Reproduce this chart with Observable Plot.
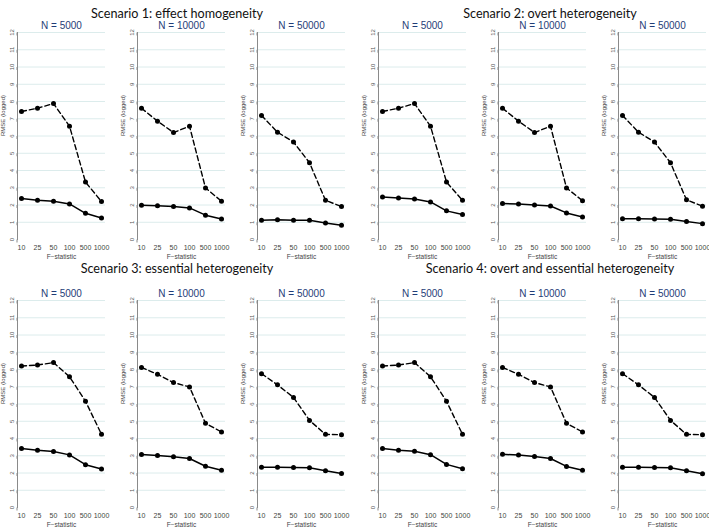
<!DOCTYPE html>
<html><head><meta charset="utf-8">
<script src="https://cdn.jsdelivr.net/npm/d3@7"></script>
<script src="https://cdn.jsdelivr.net/npm/@observablehq/plot@0.6"></script>
<style>
body{margin:0;background:#fff;width:709px;height:528px;overflow:hidden;position:relative;font-family:"Liberation Sans",Arial,sans-serif}
.title{position:absolute;font-family:Lato,"Open Sans",sans-serif;font-size:12.6px;color:#111;transform:translateX(-50%);white-space:nowrap;line-height:1}
.panel{position:absolute}
</style></head><body>
<script>
const fStats = ["10","25","50","100","500","1000"];
const sampleSizes = ["N = 5000","N = 10000","N = 50000"];
const scenarioTitles = [
  "Scenario 1: effect homogeneity",
  "Scenario 2: overt heterogeneity",
  "Scenario 3: essential heterogeneity",
  "Scenario 4: overt and essential heterogeneity"
];
const yTicks = [0,1,2,3,4,5,6,7,8,9,10,11,12];
const gridTicks = [1,2,3,4,5,6,7,8,9,10,11,12];

// dashed series (per N: 5000, 10000, 50000)
const scen1Dashed = [[7.42,7.61,7.88,6.57,3.33,2.20],[7.61,6.86,6.20,6.57,2.99,2.22],[7.19,6.22,5.65,4.45,2.27,1.91]];
const scen1Solid  = [[2.37,2.27,2.22,2.06,1.52,1.25],[1.99,1.96,1.92,1.83,1.41,1.19],[1.12,1.14,1.11,1.11,0.96,0.83]];
const scen2Dashed = [[7.42,7.61,7.88,6.57,3.33,2.27],[7.61,6.86,6.20,6.57,2.99,2.25],[7.19,6.22,5.65,4.45,2.30,1.93]];
const scen2Solid  = [[2.47,2.41,2.35,2.18,1.66,1.45],[2.08,2.06,2.00,1.94,1.54,1.31],[1.21,1.21,1.19,1.18,1.05,0.92]];
const scen3Dashed = [[8.20,8.26,8.40,7.58,6.16,4.24],[8.12,7.72,7.24,6.99,4.88,4.38],[7.76,7.11,6.38,5.05,4.24,4.22]];
const scen3Solid  = [[3.42,3.32,3.25,3.05,2.48,2.23],[3.07,3.02,2.94,2.84,2.39,2.16],[2.34,2.34,2.32,2.30,2.13,1.97]];
const scen4Dashed = [[8.20,8.26,8.40,7.58,6.16,4.24],[8.12,7.72,7.24,6.99,4.88,4.38],[7.76,7.11,6.38,5.05,4.24,4.22]];
const scen4Solid  = [[3.42,3.32,3.26,3.06,2.50,2.25],[3.08,3.04,2.95,2.84,2.38,2.16],[2.34,2.34,2.32,2.30,2.13,1.96]];

const dashedAll = [scen1Dashed, scen2Dashed, scen3Dashed, scen4Dashed];
const solidAll = [scen1Solid, scen2Solid, scen3Solid, scen4Solid];

const scenLeft = [0, 361, 0, 361];
const scenTop = [0, 0, 268, 268];
const titlePos = [[177,8],[550,8],[177,263],[550,263]];

scenarioTitles.forEach((t,i)=>{
  const d = document.createElement("div");
  d.className = "title";
  d.textContent = t;
  d.style.left = titlePos[i][0]+"px";
  d.style.top = titlePos[i][1]+"px";
  document.body.appendChild(d);
});

for (let s=0;s<4;s++){
  for (let p=0;p<3;p++){
    const dashed = fStats.map((f,k)=>({f, v: dashedAll[s][p][k]}));
    const solid = fStats.map((f,k)=>({f, v: solidAll[s][p][k]}));
    const chart = Plot.plot({
      width:120, height:265,
      marginLeft:17, marginRight:15, marginTop:32, marginBottom:26,
      style:{fontFamily:'"Liberation Sans",Arial,sans-serif', background:"transparent", overflow:"visible"},
      x:{type:"point", domain:fStats, padding:0.25},
      y:{domain:[0,12]},
      marks:[
        Plot.ruleY(gridTicks, {stroke:"#dcecec", strokeWidth:1}),
        Plot.frame({anchor:"left", stroke:"#8a8a8a"}),
        Plot.axisY({ticks:yTicks, tickSize:3, tickPadding:1, rotate:-90, textAnchor:"middle", lineAnchor:"bottom", fontSize:6, fill:"#555", stroke:"#8a8a8a", label:null}),
        Plot.axisX({tickSize:0, tickPadding:6, fontSize:7, fill:"#444", label:null}),
        Plot.text(["RMSE (logged)"], {frameAnchor:"left", dx:-14, rotate:-90, fontSize:6, fill:"#444"}),
        Plot.text(["F\u2212statistic"], {frameAnchor:"bottom", dy:19, fontSize:6.5, fill:"#444"}),
        Plot.text([sampleSizes[p]], {frameAnchor:"top", dy:-11, fontSize:10, fill:"#1f3d78"}),
        Plot.line(dashed, {x:"f", y:"v", stroke:"#000", strokeWidth:1.4, strokeDasharray:"5,3"}),
        Plot.line(solid, {x:"f", y:"v", stroke:"#000", strokeWidth:1.5}),
        Plot.dot(dashed, {x:"f", y:"v", r:2.5, fill:"#000"}),
        Plot.dot(solid, {x:"f", y:"v", r:2.5, fill:"#000"})
      ]
    });
    chart.classList.add("panel");
    chart.style.left = (scenLeft[s] + p*120)+"px";
    chart.style.top = scenTop[s]+"px";
    document.body.appendChild(chart);
  }
}
</script>
</body></html>
